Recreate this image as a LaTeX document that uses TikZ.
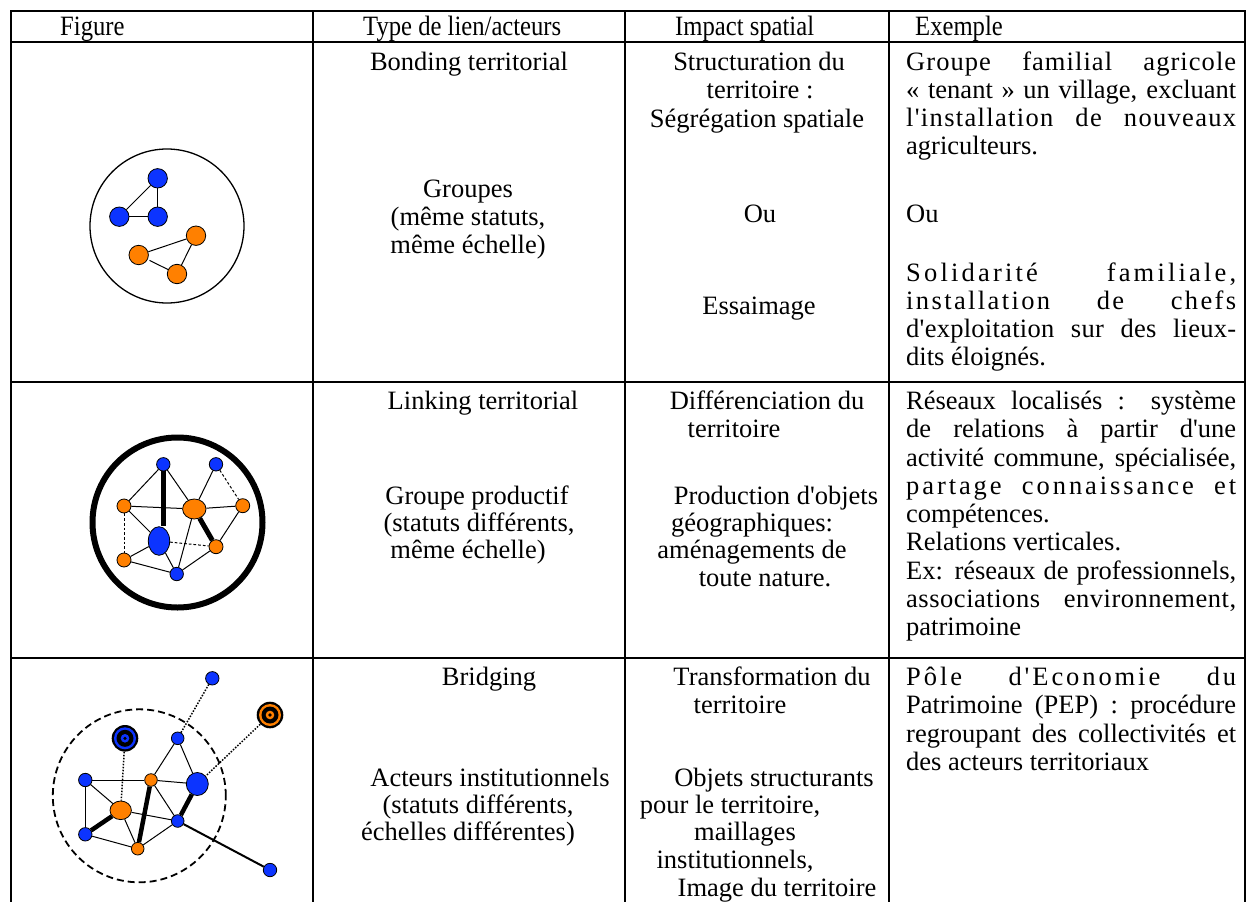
\documentclass[tikz,border=0pt]{standalone}
\usepackage{fontspec}
\setmainfont{Liberation Serif}[Ligatures=TeXOff]
\usetikzlibrary{shapes.geometric}
\definecolor{netblue}{RGB}{12,52,255}
\definecolor{netorange}{RGB}{255,128,0}
\newcommand\tabbody{\fontsize{26.5}{28}\selectfont}
\newcommand\tabhead{\fontsize{28}{30}\selectfont}
% one justified line of the "Exemple" column, optional letter spacing
\newcommand\jline[2][0]{\makebox[330pt][s]{\addfontfeature{LetterSpace=#1}#2}}
\newcommand\hd[1]{\scalebox{0.88}[1]{#1}}
\begin{document}
\begin{tikzpicture}[x=1pt,y=-1pt,
  rule/.style={line width=2pt},
  ctext/.style={inner sep=0pt, anchor=base, font=\tabbody},
  ltext/.style={inner sep=0pt, anchor=base west, font=\tabbody},
  head/.style={inner sep=0pt, anchor=base west, font=\tabhead},
  actor/.style={circle, draw=black, line width=0.8pt, inner sep=0pt, minimum size=#1},
  bact/.style={actor=#1, fill=netblue},
  oact/.style={actor=#1, fill=netorange},
  bell/.style 2 args={ellipse, draw=black, line width=0.8pt, inner sep=0pt, fill=netblue, minimum width=#1, minimum height=#2},
  oell/.style 2 args={ellipse, draw=black, line width=0.8pt, inner sep=0pt, fill=netorange, minimum width=#1, minimum height=#2},
  target/.style={circle, fill=black, inner sep=0pt, minimum size=26.6pt,
    path picture={
      \fill[#1] (path picture bounding box.center) circle (11pt);
      \fill[black] (path picture bounding box.center) circle (8.5pt);
      \fill[#1] (path picture bounding box.center) circle (4.3pt);
      \fill[black] (path picture bounding box.center) circle (1.8pt);}},
  link/.style={line width=1pt},
  heavy/.style={line width=5pt},
  weak/.style={line width=1pt, dash pattern=on 2.7pt off 2pt},
  faint/.style={line width=1.5pt, dash pattern=on 1.5pt off 1.5pt},
]
\useasboundingbox (0,0) rectangle (1247,902);

% ---------- table rules ----------
\foreach \yy in {11,42,382,658} \draw[rule] (10,\yy) -- (1246,\yy);
\foreach \xx in {11,313,625,889,1245} \draw[rule] (\xx,10) -- (\xx,902);

% ---------- header ----------
\node[head] (hfig) at (60,35) {\hd{Figure}};
\node[head] (htype) at (363,35) {\hd{Type de lien/acteurs}};
\node[head] (himp) at (675,35) {\hd{Impact spatial}};
\node[head] (hex) at (915,35) {\hd{Exemple}};

% ---------- row 1 : bonding ----------
\node[ctext] (a1) at (469,70) {Bonding territorial};
\node[ctext] (a2) at (468,197) {Groupes};
\node[ctext] (a3) at (468,225) {(même statuts,};
\node[ctext] (a4) at (468,253) {même échelle)};
\node[ctext] (b1) at (759,70) {Structuration du};
\node[ctext] (b2) at (760,98) {territoire :};
\node[ctext] (b3) at (757,127) {Ségrégation spatiale};
\node[ctext] (b4) at (760,222) {Ou};
\node[ctext] (b5) at (759,314) {Essaimage};
\node[ltext] (c1) at (906,70) {\jline[4]{Groupe familial agricole}};
\node[ltext] (c2) at (906,98) {\jline{« tenant » un village, excluant}};
\node[ltext] (c3) at (906,126) {\jline[5]{l'installation de nouveaux}};
\node[ltext] (c4) at (906,154) {agriculteurs.};
\node[ltext] (c5) at (906,222) {Ou};
\node[ltext] (c6) at (906,281) {\jline[12]{Solidarité familiale,}};
\node[ltext] (c7) at (906,309) {\jline[9]{installation de chefs}};
\node[ltext] (c8) at (906,337) {\jline[1]{d'exploitation sur des lieux-}};
\node[ltext] (c9) at (906,365) {dits éloignés.};

% ---------- row 2 : linking ----------
\node[ctext] (d1) at (483,409) {Linking territorial};
\node[ctext] (d2) at (477,504) {Groupe productif};
\node[ctext] (d3) at (479,531) {(statuts différents,};
\node[ctext] (d4) at (468,558) {même échelle)};
\node[ctext] (e1) at (767,409) {Différenciation du};
\node[ctext] (e2) at (734,437) {territoire};
\node[ctext] (e3) at (776,504) {Production d'objets};
\node[ctext] (e4) at (752,531) {géographiques:};
\node[ctext] (e5) at (752,558) {aménagements de};
\node[ctext] (e6) at (765,586) {toute nature.};
\node[ltext] (f1) at (906,409) {\jline{Réseaux localisés : système}};
\node[ltext] (f2) at (906,437) {\jline{de relations à partir d'une}};
\node[ltext] (f3) at (906,466) {\jline{activité commune, spécialisée,}};
\node[ltext] (f4) at (906,494) {\jline[11]{partage connaissance et}};
\node[ltext] (f5) at (906,522) {compétences.};
\node[ltext] (f6) at (906,550) {Relations verticales.};
\node[ltext] (f7) at (906,579) {\jline{Ex: réseaux de professionnels,}};
\node[ltext] (f8) at (906,607) {\jline[2]{associations environnement,}};
\node[ltext] (f9) at (906,635) {patrimoine};

% ---------- row 3 : bridging ----------
\node[ctext] (g1) at (489,685) {Bridging};
\node[ctext] (g2) at (490,786) {Acteurs institutionnels};
\node[ctext] (g3) at (478,813) {(statuts différents,};
\node[ctext] (g4) at (468,840) {échelles différentes)};
\node[ctext] (h1) at (772,685) {Transformation du};
\node[ctext] (h2) at (740,713) {territoire};
\node[ctext] (h3) at (774,786) {Objets structurants};
\node[ctext] (h4) at (730,813) {pour le territoire,};
\node[ctext] (h5) at (745,840) {maillages};
\node[ctext] (h6) at (735,868) {institutionnels,};
\node[ctext] (h7) at (777,896) {Image du territoire};
\node[ltext] (k1) at (906,685) {\jline[11]{Pôle d'Economie du}};
\node[ltext] (k2) at (906,713) {\jline{Patrimoine (PEP) : procédure}};
\node[ltext] (k3) at (906,742) {\jline{regroupant des collectivités et}};
\node[ltext] (k4) at (906,770) {des acteurs territoriaux};

% ---------- figure 1 : two separate groups in one territory ----------
\node[circle, draw=black, line width=1.3pt, minimum size=154pt, inner sep=0pt] (terr1) at (167,226) {};
\node[bact=19.4pt] (n1) at (157.7,178.3) {};
\node[bact=19.4pt] (n2) at (119.3,216.7) {};
\node[bact=19.4pt] (n3) at (157.7,216.7) {};
\node[oact=19.4pt] (n4) at (196,235.7) {};
\node[oact=19.4pt] (n5) at (138.7,255) {};
\node[oact=19.4pt] (n6) at (177,274) {};
\draw[link] (n1) -- (n2);
\draw[link] (n1) -- (n3);
\draw[link] (n2) -- (n3);
\draw[link] (n5) -- (n4);
\draw[link] (n4) -- (n6);
\draw[link, shorten <=2pt] (n5) -- (n6);

% ---------- figure 2 : productive group ----------
\node[circle, draw=black, line width=6pt, minimum size=170pt, inner sep=0pt] (terr2) at (177.5,522.5) {};
\node[bact=13.4pt] (p1) at (163.3,464.3) {};
\node[bact=13.4pt] (p2) at (216,464.3) {};
\node[oact=14pt] (q1) at (124,506) {};
\node[oell={23.4pt}{20pt}] (Q) at (194.3,509) {};
\node[oact=14pt] (q2) at (242.7,505.7) {};
\node[bell={21.4pt}{28.6pt}] (P) at (159,541) {};
\node[oact=14pt] (q3) at (216,546.7) {};
\node[oact=14pt] (q4) at (124,560) {};
\node[bact=13.4pt] (p3) at (176.7,574) {};
\draw[link] (p1) -- (q1);
\draw[link] (p1) -- (Q);
\draw[heavy] (p1.south) -- (P.north -| p1.south);
\draw[link] (p2) -- (Q);
\draw[weak] (p2) -- (q2);
\draw[link] (q1) -- (Q);
\draw[link] (Q) -- (q2);
\draw[link] (q1) -- (P);
\draw[weak] (q1) -- (q4);
\draw[heavy] (Q) -- (q3);
\draw[link] (Q) -- (p3);
\draw[link] (q2) -- (q3);
\draw[weak] (P) -- (q3);
\draw[link] (P) -- (q4);
\draw[link] (P) -- (p3);
\draw[link] (q4) -- (p3);
\draw[link] (q3) -- (p3);

% ---------- figure 3 : bridging across scales ----------
\node[circle, draw=black, line width=1.8pt, dash pattern=on 7pt off 4pt, minimum size=173pt, inner sep=0pt] (terr3) at (139.3,795.8) {};
\node[bact=13.4pt] (t1) at (212.3,678.3) {};
\node[target=netorange] (T2) at (270,715) {};
\node[target=netblue] (T1) at (125,738.3) {};
\node[bact=12.6pt] (s4) at (177.7,738.3) {};
\node[bact=13.4pt] (s5) at (85.3,780) {};
\node[oact=12.6pt] (r5) at (151,780) {};
\node[bell={22pt}{23pt}] (BB) at (197.3,784) {};
\node[oell={21.4pt}{18.6pt}] (RR) at (120.7,810.3) {};
\node[bact=12.6pt] (s6) at (177.7,821) {};
\node[bact=13.4pt] (s7) at (85.3,834.3) {};
\node[oact=12.6pt] (r6) at (137.7,848.7) {};
\node[bact=13.4pt] (s8) at (270,870) {};
\draw[faint] (t1) -- (s4);
\draw[faint] (T2) -- (BB);
\draw[faint] (T1) -- (RR);
\draw[link] (s4) -- (r5);
\draw[link] (s4) -- (BB);
\draw[link] (s5) -- (r5);
\draw[link] (s5) -- (RR);
\draw[link] (s5) -- (s7);
\draw[link] (r5) -- (BB);
\draw[line width=4.5pt] (r5) -- (r6);
\draw[link] (r5) -- (s6);
\draw[line width=4.5pt] (RR) -- (s7);
\draw[link] (RR) -- (s6);
\draw[link] (RR) -- (r6);
\draw[line width=4.5pt] (BB) -- (s6);
\draw[link] (s7) -- (r6);
\draw[link] (r6) -- (s6);
\draw[line width=2pt] (s6) -- (s8);
\end{tikzpicture}
\end{document}
